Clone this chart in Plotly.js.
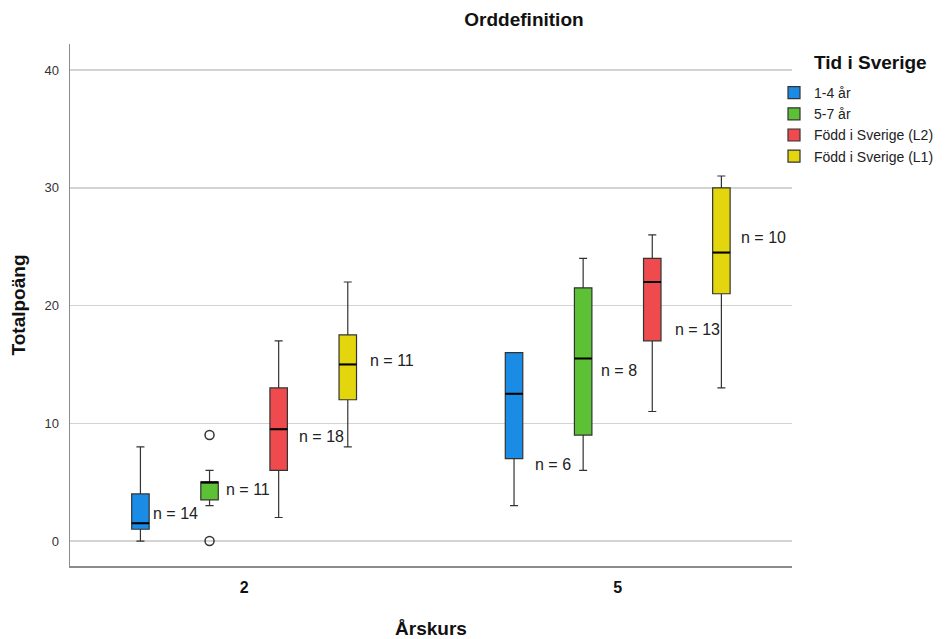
<!DOCTYPE html>
<html><head><meta charset="utf-8">
<script src="https://cdn.plot.ly/plotly-3.0.1.min.js"></script>
<style>body{margin:0;background:#fff}</style>
</head><body><div id="chart" style="width:952px;height:639px"></div>
<script>
// ---- data ----
const grades = ['2', '5'];
const series = ['1-4 år', '5-7 år', 'Född i Sverige (L2)', 'Född i Sverige (L1)'];
const lowerFence = [[0, 3], [3, 6], [2, 11], [8, 13]];
const q1Vals = [[1, 7], [3.5, 9], [6, 17], [12, 21]];
const medianVals = [[1.5, 12.5], [5, 15.5], [9.5, 22], [15, 24.5]];
const q3Vals = [[4, 16], [5, 21.5], [13, 24], [17.5, 30]];
const upperFence = [[8, 16], [6, 24], [17, 26], [22, 31]];
const counts = [[14, 6], [11, 8], [18, 13], [11, 10]];
const countLabelY = [[2.3, 6.5], [4.4, 14.45], [8.9, 18], [15.3, 25.8]];
const outlierSeries = [1, 1];
const outlierGrade = [0, 0];
const outlierValue = [9, 0];
const yTicks = [0, 10, 20, 30, 40];

// ---- styles ----
const colors = ['#1a8ce6', '#5cc135', '#ef4b4e', '#e4d60c'];
const labelDx = [[11, 19], [14, 16], [18, 21], [20, 18]];
const BOXGAP = 0.26, GROUPGAP = 0.747;
const FONT = 'Liberation Sans, Arial, sans-serif';
const gradeIdx = grades.map((g, i) => i);
const offset = i => (i - (series.length - 1) / 2) * (1 - BOXGAP) / series.length;

const traces = [];
series.forEach((name, i) => {
  traces.push({
    type: 'box', name: name, x: gradeIdx, offsetgroup: 'g' + i,
    q1: q1Vals[i], median: medianVals[i], q3: q3Vals[i],
    lowerfence: lowerFence[i], upperfence: upperFence[i],
    fillcolor: colors[i], line: {color: '#333', width: 1.2},
    whiskerwidth: 0.46, boxpoints: false, hoverinfo: 'y'
  });
});
series.forEach((name, i) => {
  traces.push({
    type: 'box', name: name + ' median', x: gradeIdx, offsetgroup: 'g' + i,
    q1: medianVals[i], median: medianVals[i], q3: medianVals[i],
    lowerfence: medianVals[i], upperfence: medianVals[i],
    fillcolor: 'rgba(0,0,0,0)', line: {color: '#000', width: 2},
    whiskerwidth: 0, boxpoints: false, showlegend: false, hoverinfo: 'skip'
  });
});
traces.push({
  type: 'scatter', mode: 'markers', showlegend: false,
  x: outlierValue.map((v, k) => outlierGrade[k] + offset(outlierSeries[k])),
  y: outlierValue,
  marker: {symbol: 'circle-open', size: 9, color: '#333', line: {width: 1.5}}
});

const annotations = [];
series.forEach((name, i) => {
  gradeIdx.forEach(g => {
    annotations.push({
      x: g + offset(i), y: countLabelY[i][g], xref: 'x', yref: 'y',
      text: 'n = ' + counts[i][g], showarrow: false,
      xanchor: 'left', yanchor: 'middle', xshift: labelDx[i][g],
      font: {family: FONT, size: 16, color: '#222'}
    });
  });
});
annotations.push({
  x: (812 - 70) / 722, y: (566 - 63) / 522, xref: 'paper', yref: 'paper',
  xanchor: 'left', yanchor: 'middle',
  text: '<b>Tid i Sverige</b>', showarrow: false,
  font: {family: FONT, size: 19, color: '#111'}
});

const layout = {
  width: 952, height: 639,
  margin: {l: 70, r: 160, t: 44, b: 73, autoexpand: false},
  paper_bgcolor: '#fff', plot_bgcolor: '#fff',
  font: {family: FONT, color: '#222'},
  title: {text: '<b>Orddefinition</b>', x: 0.5504, xref: 'container', xanchor: 'center',
          y: 0.969, yref: 'container', yanchor: 'middle',
          font: {family: FONT, size: 19, color: '#111'}},
  boxmode: 'group', boxgap: BOXGAP, boxgroupgap: GROUPGAP,
  showlegend: true,
  legend: {x: 782 / 952, xref: 'container', xanchor: 'left',
           y: 1 - 77 / 639, yref: 'container', yanchor: 'top',
           font: {family: FONT, size: 14, color: '#222'},
           indentation: -8, tracegroupgap: 0, itemclick: false},
  xaxis: {
    range: [-0.466, 1.4665], tickvals: gradeIdx, ticktext: grades.map(g => '<b>' + g + '</b>'),
    tickfont: {family: FONT, size: 16, color: '#111'},
    showline: true, linecolor: '#8c8c8c', linewidth: 1.5, showgrid: false, zeroline: false,
    ticks: '', ticklabelstandoff: 6,
    title: {text: '<b>Årskurs</b>', font: {family: FONT, size: 19, color: '#111'}, standoff: 27}
  },
  yaxis: {
    range: [-2.12, 42.21], tickvals: yTicks,
    tickfont: {family: FONT, size: 13, color: '#333'},
    showline: true, linecolor: '#8c8c8c', linewidth: 1.5,
    showgrid: true, gridcolor: '#d3d3d3', gridwidth: 1.5, zeroline: false,
    ticks: '', ticklabelstandoff: 7,
    title: {text: '<b>Totalpoäng</b>', font: {family: FONT, size: 19, color: '#111'}, standoff: 14}
  },
  annotations: annotations
};
Plotly.newPlot('chart', traces, layout, {displayModeBar: false, staticPlot: true});
</script></body></html>
